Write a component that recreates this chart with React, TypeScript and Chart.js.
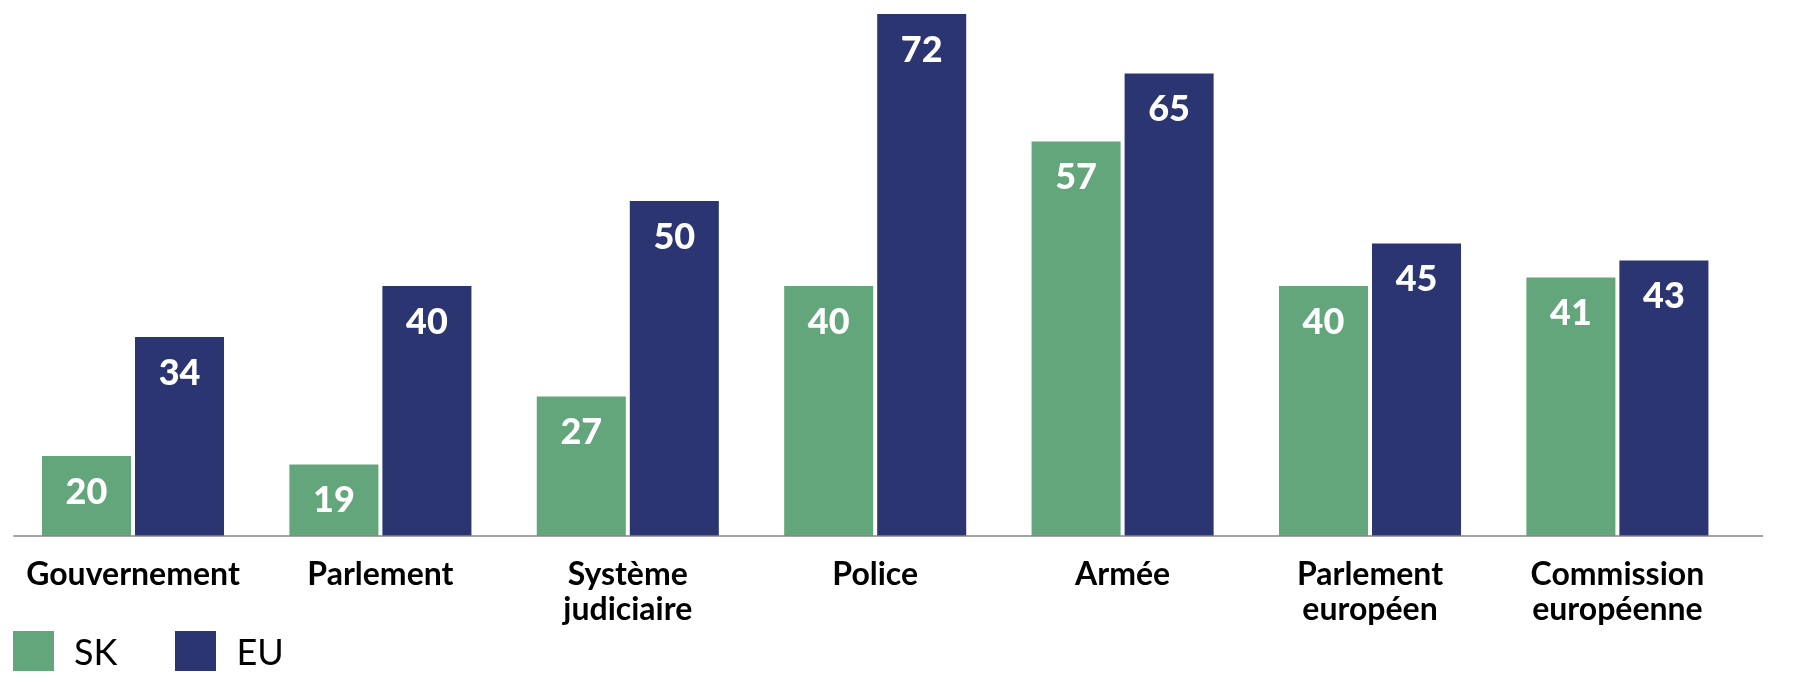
import React from "react";
import { Chart, ChartConfiguration, Plugin, registerables } from "chart.js";

Chart.register(...registerables);

const categories: (string | string[])[] = [
  "Gouvernement",
  "Parlement",
  ["Système", "judiciaire"],
  "Police",
  "Armée",
  ["Parlement", "européen"],
  ["Commission", "européenne"],
];

const skValues = [20, 19, 27, 40, 57, 40, 41];
const euValues = [34, 40, 50, 72, 65, 45, 43];

const seriesNames = ["SK", "EU"];
const seriesColors = ["#64A67B", "#2A3572"];

// the value axis of the source starts a little above zero
const yMin = 10.6;
const yMax = 72;

const FONT = "Lato, 'Open Sans', sans-serif";

// white numbers inside the top of each bar
const barValueLabels: Plugin<"bar"> = {
  id: "barValueLabels",
  afterDatasetsDraw(chart) {
    const { ctx } = chart;
    ctx.save();
    ctx.fillStyle = "#ffffff";
    ctx.font = `900 36px ${FONT}`;
    ctx.textAlign = "center";
    ctx.textBaseline = "middle";
    chart.data.datasets.forEach((dataset, di) => {
      const meta = chart.getDatasetMeta(di);
      meta.data.forEach((bar, i) => {
        const value = dataset.data[i] as number;
        ctx.fillText(String(value), bar.x, bar.y + 36);
      });
    });
    ctx.restore();
  },
};

// grey base line, a bit wider than the plot area
const baseLine: Plugin<"bar"> = {
  id: "baseLine",
  afterDatasetsDraw(chart) {
    const { ctx, chartArea } = chart;
    ctx.save();
    ctx.strokeStyle = "#858585";
    ctx.lineWidth = 1.5;
    ctx.beginPath();
    ctx.moveTo(chartArea.left + 4, chartArea.bottom);
    ctx.lineTo(chartArea.right + 22, chartArea.bottom);
    ctx.stroke();
    ctx.restore();
  },
};

const App: React.FC = () => {
  const canvasRef = React.useRef<HTMLCanvasElement | null>(null);
  const chartRef = React.useRef<Chart<"bar"> | null>(null);

  React.useEffect(() => {
    const ctx = canvasRef.current;
    if (!ctx) return;

    chartRef.current?.destroy();

    const config: ChartConfiguration<"bar"> = {
      type: "bar",
      data: {
        labels: categories,
        datasets: [skValues, euValues].map((values, i) => ({
          label: seriesNames[i],
          data: values,
          backgroundColor: seriesColors[i],
          borderWidth: 0,
          categoryPercentage: 0.752,
          barPercentage: 0.957,
        })),
      },
      options: {
        animation: false,
        responsive: true,
        maintainAspectRatio: false,
        layout: {
          padding: { left: 9.3, right: 56.9, top: 14, bottom: 0 },
        },
        plugins: {
          legend: { display: false },
          tooltip: { enabled: false },
        },
        scales: {
          x: {
            grid: { display: false, drawTicks: false },
            border: { display: false },
            ticks: {
              color: "#000000",
              padding: 21,
              maxRotation: 0,
              autoSkip: false,
              font: { family: FONT, size: 32, weight: "bold", lineHeight: 1.1 },
            },
            afterFit: (scale) => {
              scale.height = 152;
            },
          },
          y: {
            display: false,
            min: yMin,
            max: yMax,
          },
        },
      },
      plugins: [baseLine, barValueLabels],
    };

    chartRef.current = new Chart(ctx, config);

    return () => {
      chartRef.current?.destroy();
    };
  }, []);

  return (
    <div
      style={{
        position: "absolute",
        left: 0,
        top: 0,
        width: 1798,
        height: 688,
        background: "#ffffff",
      }}
    >
      <canvas ref={canvasRef} />
      <div
        style={{
          position: "absolute",
          left: 13,
          top: 631,
          display: "flex",
          alignItems: "center",
          gap: 58,
          fontFamily: FONT,
          fontSize: 36,
          color: "#000000",
        }}
      >
        {seriesNames.map((name, i) => (
          <div key={name} style={{ display: "flex", alignItems: "center" }}>
            <span
              style={{
                display: "inline-block",
                width: 41,
                height: 40,
                background: seriesColors[i],
                marginRight: 20,
              }}
            />
            <span style={{ lineHeight: "40px" }}>{name}</span>
          </div>
        ))}
      </div>
    </div>
  );
};

export default App;
